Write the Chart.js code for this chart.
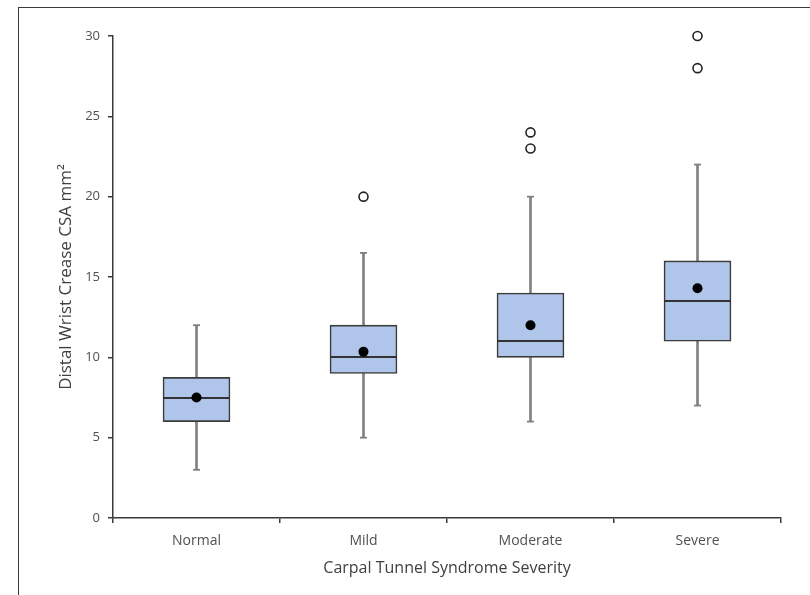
<!DOCTYPE html>
<html>
<head>
<meta charset="utf-8">
<script src="https://cdn.jsdelivr.net/npm/chart.js@4/dist/chart.umd.min.js"></script>
<style>
  html, body { margin: 0; padding: 0; background: #ffffff; }
  #wrap { position: relative; width: 810px; height: 595px; overflow: hidden; }
  #frame { position: absolute; left: 18px; top: 7px; width: 820px; height: 620px;
           border-left: 1.5px solid #3a3a3a; border-top: 1.5px solid #3a3a3a; }
  canvas { position: absolute; left: 0; top: 0; }
</style>
</head>
<body>
<div id="wrap">
  <div id="frame"></div>
  <canvas id="c" width="810" height="595"></canvas>
</div>
<script>
const categories = ['Normal', 'Mild', 'Moderate', 'Severe'];
const whiskerLow = [3, 5, 6, 7];
const q1 = [6, 9, 10, 11];
const median = [7.5, 10, 11, 13.5];
const q3 = [8.75, 12, 14, 16];
const whiskerHigh = [12, 16.5, 20, 22];
const mean = [7.5, 10.35, 12, 14.3];
const outlierCategories = ['Mild', 'Moderate', 'Moderate', 'Severe', 'Severe'];
const outlierValues = [20, 23, 24, 28, 30];
const yTicks = [0, 5, 10, 15, 20, 25, 30];

const FONT = "'Open Sans', 'Liberation Sans', sans-serif";
const BOX_W = 67;

const boxData = categories.map((c, i) => [q1[i], q3[i]]);
const whiskerData = categories.map((c, i) => [whiskerLow[i], whiskerHigh[i]]);
const outlierData = outlierValues.map((v, i) => ({ x: outlierCategories[i], y: v }));

// median marker: a thin horizontal stroke as wide as the box
const medianMark = document.createElement('canvas');
medianMark.width = BOX_W; medianMark.height = 2;
const mctx = medianMark.getContext('2d');
mctx.fillStyle = '#333333';
mctx.fillRect(0, 0, BOX_W, 2);

new Chart(document.getElementById('c'), {
  type: 'bar',
  data: {
    labels: categories,
    datasets: [
      { type: 'line', label: 'Mean', data: mean, showLine: false, clip: false,
        pointStyle: 'circle', pointRadius: 5, pointBackgroundColor: '#000000',
        pointBorderColor: '#000000', pointBorderWidth: 0 },
      { type: 'line', label: 'Median', data: median, showLine: false, clip: false,
        pointStyle: medianMark, pointRadius: 1, pointBorderWidth: 0 },
      { type: 'line', label: 'Outliers', data: outlierData, showLine: false, clip: false,
        pointStyle: 'circle', pointRadius: 4.5, pointBackgroundColor: '#ffffff',
        pointBorderColor: '#222222', pointBorderWidth: 1.6 },
      { type: 'line', label: 'CapLow', data: whiskerLow, showLine: false, clip: false,
        pointStyle: 'line', pointRadius: 3.5, pointBorderColor: '#808080', pointBorderWidth: 1.8 },
      { type: 'line', label: 'CapHigh', data: whiskerHigh, showLine: false, clip: false,
        pointStyle: 'line', pointRadius: 3.5, pointBorderColor: '#808080', pointBorderWidth: 1.8 },
      { type: 'bar', label: 'Box', data: boxData, grouped: false, barThickness: BOX_W,
        backgroundColor: '#afc5e9', borderColor: '#3b3b3b', borderWidth: 1.6,
        borderSkipped: false },
      { type: 'bar', label: 'Whisker', data: whiskerData, grouped: false, barThickness: 2,
        backgroundColor: '#808080', borderWidth: 0 }
    ]
  },
  options: {
    responsive: false,
    animation: false,
    layout: { padding: { left: 0, right: 29, top: 36, bottom: 0 } },
    plugins: { legend: { display: false }, tooltip: { enabled: false } },
    scales: {
      x: {
        offset: true,
        grid: { offset: true, drawOnChartArea: false, drawTicks: true, tickLength: 5,
                color: '#3b3b3b', lineWidth: 1.5 },
        border: { display: true, color: '#3b3b3b', width: 1.5 },
        ticks: { font: { family: FONT, size: 14 }, color: '#505050', padding: 10 },
        title: { display: true, text: 'Carpal Tunnel Syndrome Severity',
                 font: { family: FONT, size: 16 }, color: '#404040',
                 padding: { top: 4, bottom: 17 } },
        afterFit: (s) => { s.height = 77; }
      },
      y: {
        min: 0, max: 30,
        afterBuildTicks: (s) => { s.ticks = yTicks.map(v => ({ value: v })); },
        grid: { drawOnChartArea: false, drawTicks: true, tickLength: 5,
                color: '#3b3b3b', lineWidth: 1.5 },
        border: { display: true, color: '#3b3b3b', width: 1.5 },
        ticks: { font: { family: FONT, size: 13 }, color: '#505050', padding: 8 },
        title: { display: true, text: 'Distal Wrist Crease CSA mm²',
                 font: { family: FONT, size: 17 }, color: '#404040',
                 padding: { top: 56, bottom: 0 } },
        afterFit: (s) => { s.width = 113; }
      }
    }
  }
});
</script>
</body>
</html>
